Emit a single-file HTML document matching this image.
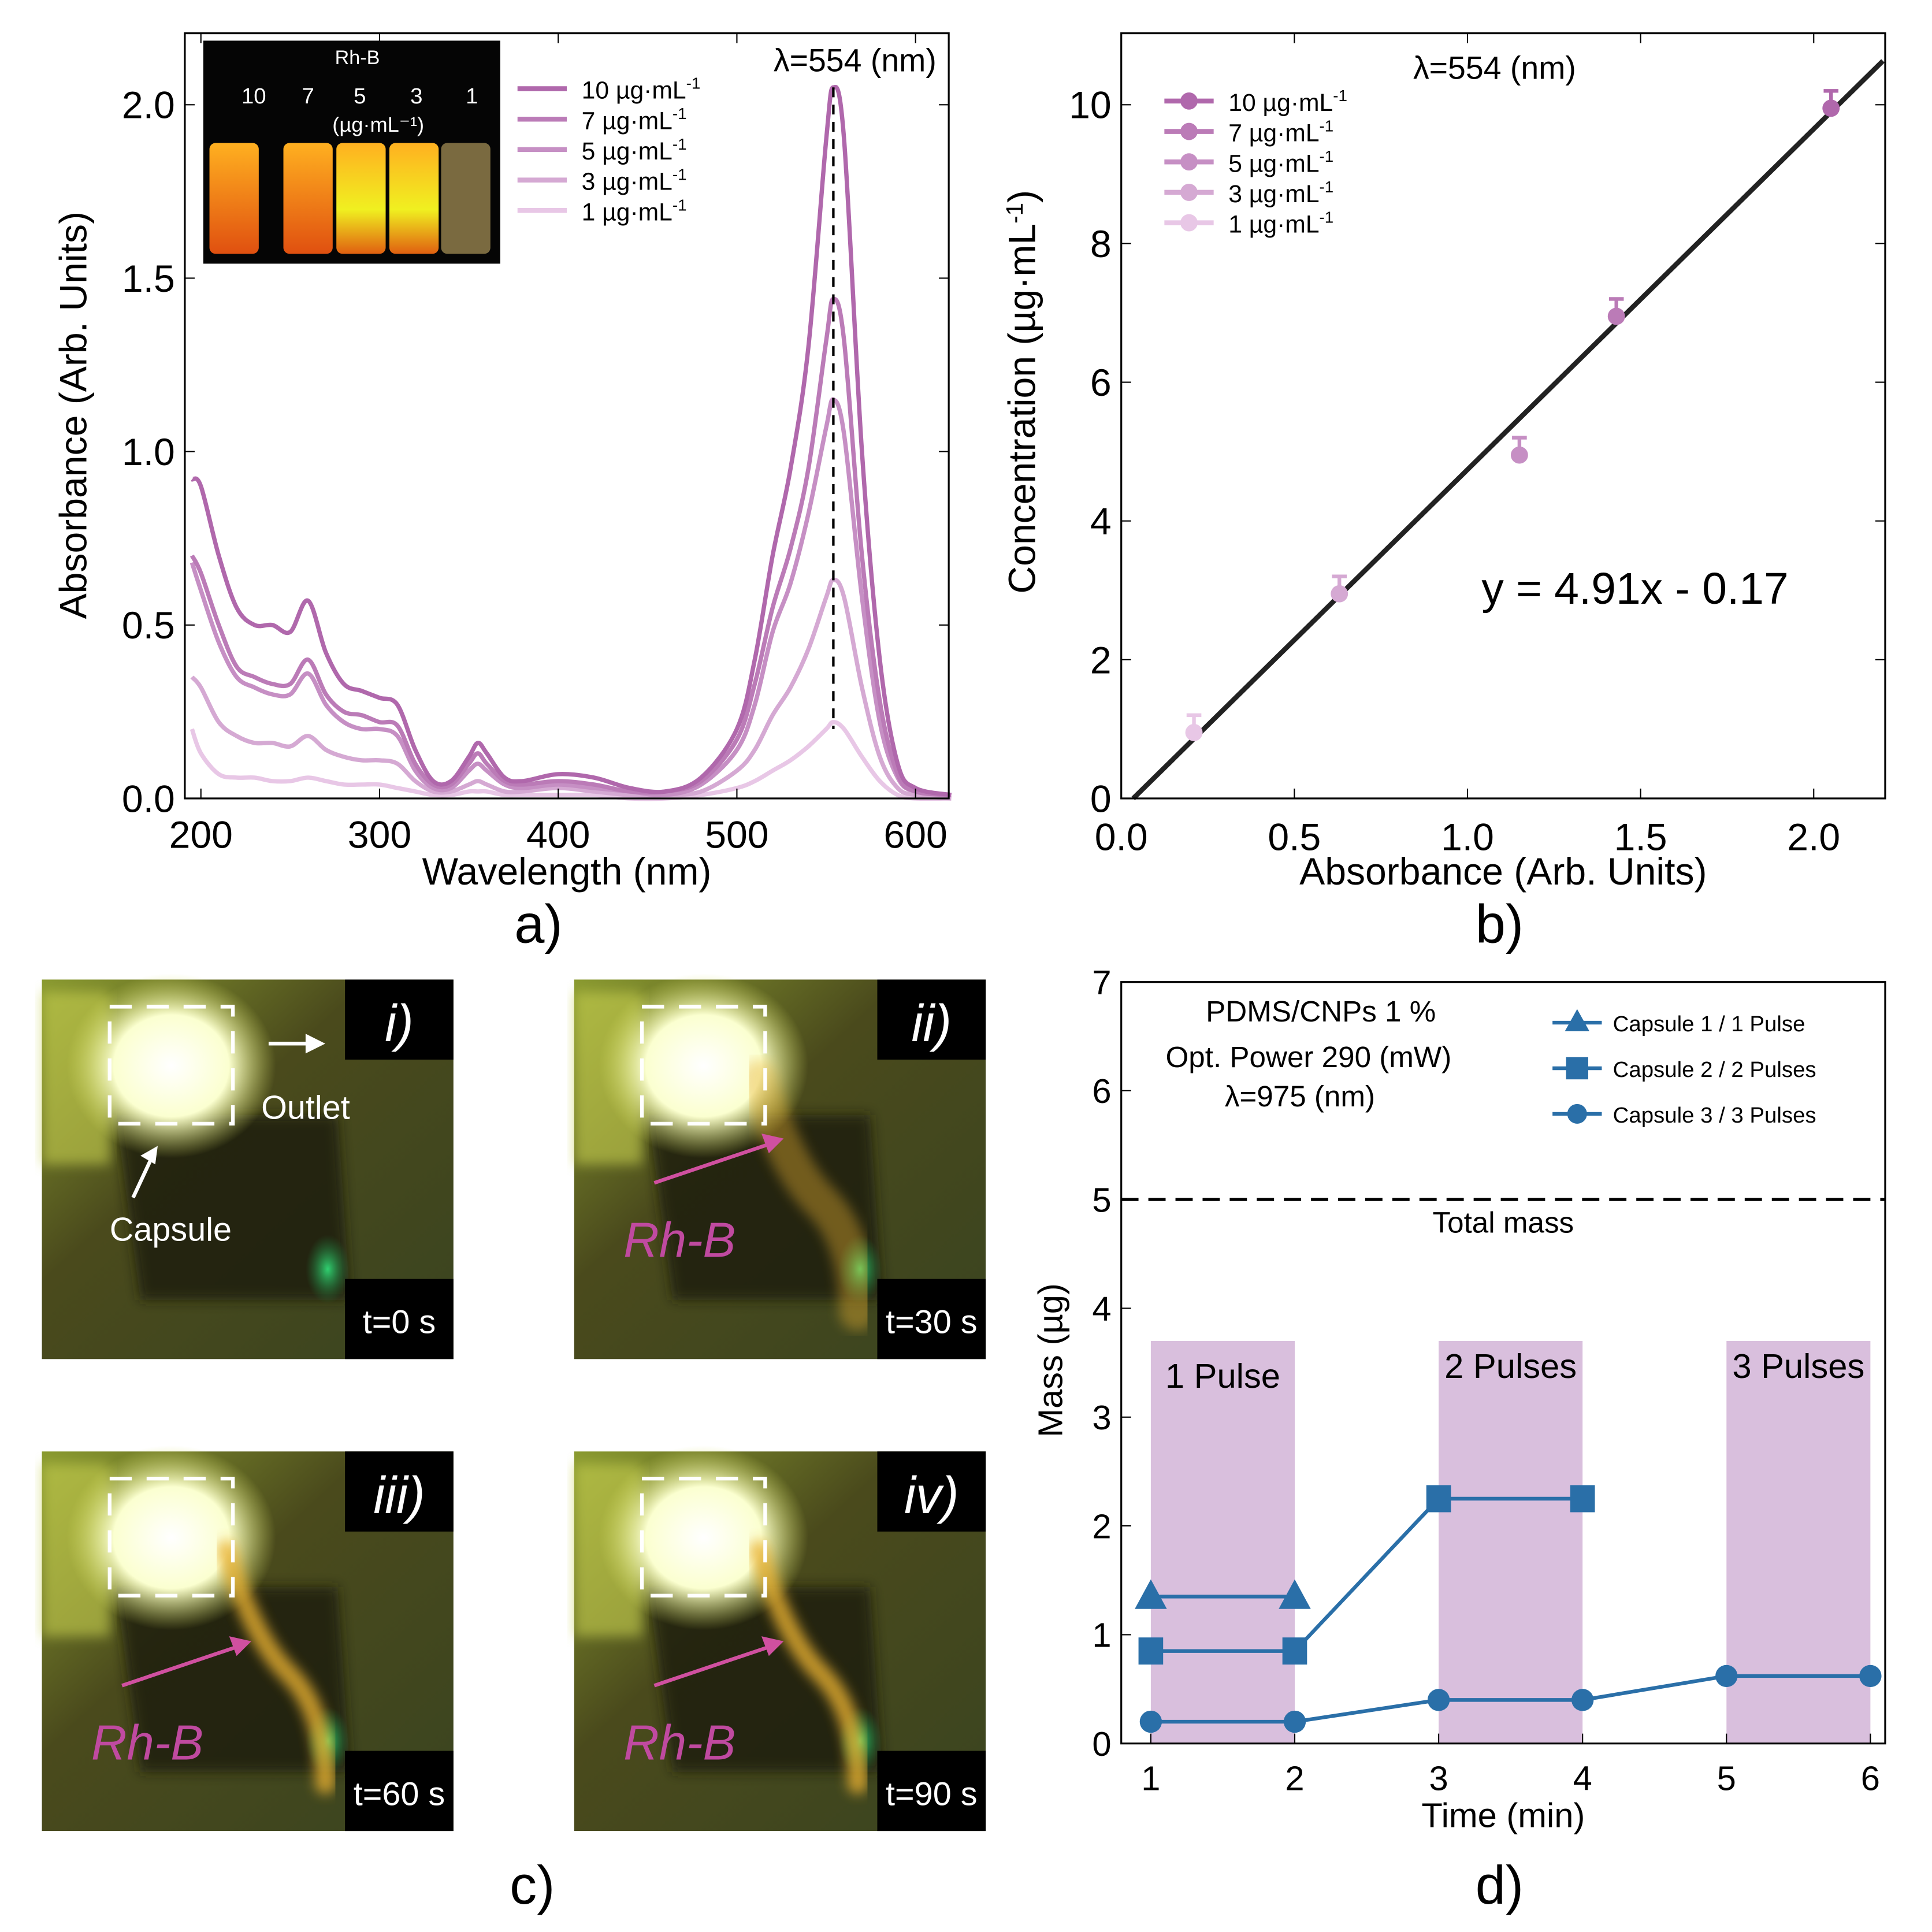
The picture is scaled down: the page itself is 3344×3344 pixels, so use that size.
<!DOCTYPE html>
<html><head><meta charset="utf-8"><style>
html,body{margin:0;padding:0;background:#fff}
svg{display:block}
text{font-family:"Liberation Sans","DejaVu Sans",sans-serif}
</style></head><body>
<svg id="fig" xmlns="http://www.w3.org/2000/svg" width="3344" height="3344" viewBox="0 0 1568 1568">
<defs>
<radialGradient id="glow" cx="50%" cy="50%" r="50%"><stop offset="0" stop-color="#ffffff"/><stop offset="0.55" stop-color="#fbffd0"/><stop offset="1" stop-color="#d8e060" stop-opacity="0"/></radialGradient>
<radialGradient id="green" cx="50%" cy="50%" r="50%"><stop offset="0" stop-color="#30d070"/><stop offset="1" stop-color="#208040" stop-opacity="0"/></radialGradient>
<linearGradient id="bg" x1="0" y1="0" x2="1" y2="1"><stop offset="0" stop-color="#8a9a30"/><stop offset="0.4" stop-color="#4a4a1c"/><stop offset="1" stop-color="#3a4420"/></linearGradient>
<linearGradient id="vial" x1="0" y1="0" x2="0" y2="1"><stop offset="0" stop-color="#ffb020"/><stop offset="1" stop-color="#e05010"/></linearGradient>
<linearGradient id="vialy" x1="0" y1="0" x2="0" y2="1"><stop offset="0" stop-color="#ffb020"/><stop offset="0.6" stop-color="#f0f020"/><stop offset="1" stop-color="#e06010"/></linearGradient>
<filter id="blur"><feGaussianBlur stdDeviation="5"/></filter>
</defs>
<g id="root"></g>
</svg>
<script>
// ---------- Panel a data ----------
const wavelengths=[195,200,210,220,230,240,250,260,270,280,290,300,310,320,330,340,350,355,360,370,380,400,420,440,460,480,500,510,520,530,540,550,554,560,570,580,590,600,620];
const abs10=[.92,.90,.70,.55,.50,.50,.48,.57,.42,.33,.31,.29,.27,.14,.05,.05,.12,.16,.13,.06,.05,.07,.06,.03,.02,.06,.20,.40,.70,.95,1.30,1.90,2.05,1.90,1.00,.40,.10,.03,.01];
const abs7=[.70,.65,.50,.38,.35,.33,.33,.40,.30,.25,.24,.22,.21,.10,.04,.04,.10,.13,.10,.05,.04,.05,.04,.02,.02,.05,.17,.33,.55,.72,.95,1.32,1.44,1.32,.70,.28,.07,.02,.01];
const abs5=[.68,.60,.45,.35,.32,.30,.30,.36,.27,.22,.20,.20,.18,.08,.03,.03,.08,.10,.08,.04,.03,.04,.03,.02,.01,.04,.14,.27,.48,.62,.82,1.07,1.15,1.05,.58,.22,.06,.02,.01];
const abs3=[.35,.32,.22,.18,.16,.16,.15,.18,.14,.12,.11,.11,.10,.05,.02,.02,.04,.05,.04,.02,.02,.03,.02,.01,.01,.02,.08,.14,.24,.32,.43,.58,.63,.58,.32,.12,.03,.01,.00];
const abs1=[.20,.13,.07,.06,.06,.05,.05,.06,.05,.04,.04,.04,.03,.02,.01,.01,.02,.02,.02,.01,.01,.01,.01,.00,.00,.01,.03,.05,.08,.11,.15,.20,.22,.20,.12,.05,.01,.00,.00];
const aXTicks=[200,300,400,500,600];
const aYTicks=[0,0.5,1.0,1.5,2.0];
const seriesLabels=["10 µg·mL","7 µg·mL","5 µg·mL","3 µg·mL","1 µg·mL"];
// ---------- Panel b data ----------
const bAbs=[0.21,0.63,1.15,1.43,2.05];
const bConc=[0.95,2.95,4.95,6.95,9.95];
const bErr=[0.25,0.25,0.25,0.25,0.25];
const bXTicks=[0,0.5,1.0,1.5,2.0];
const bYTicks=[0,2,4,6,8,10];
const fitSlope=4.91, fitIntercept=-0.17;
// ---------- Panel d data ----------
const dTri=[[1,1.35],[2,1.35]];
const dSq=[[1,0.85],[2,0.85],[3,2.25],[4,2.25]];
const dCirc=[[1,0.2],[2,0.2],[3,0.4],[4,0.4],[5,0.62],[6,0.62]];
const dBands=[[1,2,"1 Pulse"],[3,4,"2 Pulses"],[5,6,"3 Pulses"]];
const dXTicks=[1,2,3,4,5,6];
const dYTicks=[0,1,2,3,4,5,6,7];

const NS="http://www.w3.org/2000/svg";
const root=document.getElementById('root');
function el(tag,attrs,parent,txt){const e=document.createElementNS(NS,tag);for(const k in attrs)e.setAttribute(k,attrs[k]);if(txt!==undefined)e.textContent=txt;(parent||root).appendChild(e);return e;}
function smooth(pts){let d='M'+pts[0][0]+' '+pts[0][1];for(let i=0;i<pts.length-1;i++){const p0=pts[Math.max(0,i-1)],p1=pts[i],p2=pts[i+1],p3=pts[Math.min(pts.length-1,i+2)];
 const c1=[p1[0]+(p2[0]-p0[0])/6,p1[1]+(p2[1]-p0[1])/6],c2=[p2[0]-(p3[0]-p1[0])/6,p2[1]-(p3[1]-p1[1])/6];
 d+=` C${c1[0]} ${c1[1]} ${c2[0]} ${c2[1]} ${p2[0]} ${p2[1]}`;}return d;}
const cols=["#b068ac","#bb7bb7","#c68fc4","#d5a9d3","#e8c7e6"];

// ===== Panel a =====
const ga=el('g',{});


const ax=w=>150+(w-191)*1.45, ay=v=>648-v*281.5;
[abs10,abs7,abs5,abs3,abs1].slice().reverse().forEach((s,ri)=>{const i=4-ri;
 const p=el('path',{d:smooth(wavelengths.map((w,j)=>[ax(w),ay(s[j])])),fill:'none',stroke:cols[i],'stroke-width':3.5,'stroke-linejoin':'round'},ga);
 
 });
el('line',{x1:ax(554),x2:ax(554),y1:ay(2.05),y2:ay(0.2),stroke:'#000','stroke-width':2,'stroke-dasharray':'8,6'},ga);
el('rect',{x:150,y:27,width:620,height:621,fill:'none',stroke:'#000','stroke-width':1.5},ga);
aXTicks.forEach(t=>{el('line',{x1:ax(t),x2:ax(t),y1:648,y2:640,stroke:'#000'},ga);el('line',{x1:ax(t),x2:ax(t),y1:27,y2:35,stroke:'#000'},ga);
 const tx=el('text',{x:ax(t),y:688,'font-size':31,'text-anchor':'middle'},ga,t);});
aYTicks.forEach(t=>{el('line',{x1:150,x2:158,y1:ay(t),y2:ay(t),stroke:'#000'},ga);el('line',{x1:770,x2:762,y1:ay(t),y2:ay(t),stroke:'#000'},ga);
 const tx=el('text',{x:142,y:ay(t)+11,'font-size':31,'text-anchor':'end'},ga,t.toFixed(1));});
let t1=el('text',{x:460,y:718,'font-size':31,'text-anchor':'middle'},ga,'Wavelength (nm)');
let t2=el('text',{x:70,y:337,'font-size':31,'text-anchor':'middle',transform:'rotate(-90 70 337)'},ga,'Absorbance (Arb. Units)');
el('text',{x:760,y:58,'font-size':26,'text-anchor':'end'},ga,'λ=554 (nm)');
seriesLabels.forEach((l,i)=>{const y=72+i*24.7;el('line',{x1:420,x2:460,y1:y,y2:y,stroke:cols[i],'stroke-width':4},ga);
 const tx=el('text',{x:472,y:y+8,'font-size':20},ga);
 tx.innerHTML=l+'<tspan dy="-8" font-size="13">-1</tspan>';});
// inset photo
const inset=el('g',{},ga);
el('rect',{x:165,y:33,width:241,height:181,fill:'#050505'},inset);
el('text',{x:290,y:52,'font-size':16,fill:'#fff','text-anchor':'middle'},inset,'Rh-B');
[["10",206],["7",250],["5",292],["3",338],["1",383]].forEach(([n,x])=>el('text',{x:x,y:84,'font-size':18,fill:'#fff','text-anchor':'middle'},inset,n));
el('text',{x:307,y:107,'font-size':17,fill:'#fff','text-anchor':'middle'},inset,'(µg·mL⁻¹)');
[[170,'url(#vial)'],[230,'url(#vial)'],[273,'url(#vialy)'],[316,'url(#vialy)'],[358,'#7a6a40']].forEach(([x,f])=>el('rect',{x:x,y:116,width:40,height:90,rx:5,fill:f},inset));
let la=el('text',{x:437,y:765,'font-size':44,'text-anchor':'middle'},ga,'a)');

// ===== Panel b =====
const gb=el('g',{});


const bx=v=>910+v*281, by=v=>648-v*56.3;
const x0=(0-fitIntercept)/fitSlope, x1=2.2;
const fit=el('line',{x1:bx(x0),y1:by(0),x2:bx(x1),y2:by(fitSlope*x1+fitIntercept),stroke:'#222','stroke-width':4},gb);

const bcols=cols.slice().reverse();
bAbs.forEach((a,i)=>{el('line',{x1:bx(a),x2:bx(a),y1:by(bConc[i]),y2:by(bConc[i]+bErr[i]),stroke:bcols[i],'stroke-width':3},gb);
 el('line',{x1:bx(a)-6,x2:bx(a)+6,y1:by(bConc[i]+bErr[i]),y2:by(bConc[i]+bErr[i]),stroke:bcols[i],'stroke-width':3},gb);
 const c=el('circle',{cx:bx(a),cy:by(bConc[i]),r:7,fill:bcols[i]},gb);});
el('rect',{x:910,y:27,width:620,height:621,fill:'none',stroke:'#000','stroke-width':1.5},gb);
bXTicks.forEach(t=>{el('line',{x1:bx(t),x2:bx(t),y1:648,y2:640,stroke:'#000'},gb);el('line',{x1:bx(t),x2:bx(t),y1:27,y2:35,stroke:'#000'},gb);
 const tx=el('text',{x:bx(t),y:690,'font-size':31,'text-anchor':'middle'},gb,t.toFixed(1));});
bYTicks.forEach(t=>{el('line',{x1:910,x2:918,y1:by(t),y2:by(t),stroke:'#000'},gb);el('line',{x1:1530,x2:1522,y1:by(t),y2:by(t),stroke:'#000'},gb);
 const tx=el('text',{x:902,y:by(t)+11,'font-size':31,'text-anchor':'end'},gb,t);});
let t3=el('text',{x:1220,y:718,'font-size':31,'text-anchor':'middle'},gb,'Absorbance (Arb. Units)');
let t4=el('text',{x:840,y:318,'font-size':31,'text-anchor':'middle',transform:'rotate(-90 840 318)'},gb);t4.innerHTML='Concentration  (µg·mL<tspan dy="-10" font-size="19">-1</tspan><tspan dy="10">)</tspan>';
el('text',{x:1213,y:64,'font-size':26,'text-anchor':'middle'},gb,'λ=554 (nm)');
let eq=el('text',{x:1327,y:490,'font-size':36,'text-anchor':'middle'},gb,'y = 4.91x - 0.17');
seriesLabels.forEach((l,i)=>{const y=82+i*24.7;el('line',{x1:945,x2:985,y1:y,y2:y,stroke:cols[i],'stroke-width':4},gb);el('circle',{cx:965,cy:y,r:7,fill:cols[i]},gb);
 const tx=el('text',{x:997,y:y+8,'font-size':20},gb);
 tx.innerHTML=l+'<tspan dy="-8" font-size="13">-1</tspan>';});
let lb=el('text',{x:1217,y:765,'font-size':44,'text-anchor':'middle'},gb,'b)');

// ===== Panel c (photos) =====
const gc=el('g',{});


const photos=[[34,795,'i)','t=0 s',0],[466,795,'ii)','t=30 s',1],[34,1178,'iii)','t=60 s',2],[466,1178,'iv)','t=90 s',3]];
photos.forEach(([x,y,lab,time,k])=>{const g=el('g',{},gc);
 el('rect',{x:x,y:y,width:334,height:308,fill:'url(#bg)'},g);
 el('path',{d:`M${x+60} ${y+110} L${x+240} ${y+110} L${x+250} ${y+260} L${x+80} ${y+260} Z`,fill:'#1e1a10',opacity:0.8,filter:'url(#blur)'},g);
 el('rect',{x:x,y:y+10,width:55,height:140,fill:'#c8d050',opacity:0.6,filter:'url(#blur)'},g);
 el('ellipse',{cx:x+105,cy:y+70,rx:85,ry:75,fill:'url(#glow)'},g);
 el('ellipse',{cx:x+232,cy:y+235,rx:18,ry:28,fill:'url(#green)'},g);
 if(k>0){const w=k===1?30:16;el('path',{d:`M${x+150} ${y+80} Q${x+170} ${y+150} ${x+200} ${y+180} T${x+230} ${y+270}`,fill:'none',stroke:'#e8b030','stroke-width':w,'stroke-linecap':'round',opacity:k===1?0.4:0.8,filter:'url(#blur)'},g);}
 el('rect',{x:x+55,y:y+22,width:100,height:95,fill:'none',stroke:'#fff','stroke-width':3,'stroke-dasharray':'18,12'},g);
 el('rect',{x:x+246,y:y,width:88,height:65,fill:'#000'},g);
 el('rect',{x:x+246,y:y+243,width:88,height:65,fill:'#000'},g);
 el('text',{x:x+290,y:y+50,'font-size':42,fill:'#fff','font-style':'italic','text-anchor':'middle'},g,lab);
 el('text',{x:x+290,y:y+287,'font-size':27,fill:'#fff','text-anchor':'middle'},g,time);
 if(k===0){el('text',{x:x+178,y:y+113,'font-size':27,fill:'#fff'},g,'Outlet');
  el('line',{x1:x+184,y1:y+52,x2:x+215,y2:y+52,stroke:'#fff','stroke-width':3},g);el('path',{d:`M${x+230} ${y+52} l-16 -8 v16 z`,fill:'#fff'},g);
  el('line',{x1:x+74,y1:y+177,x2:x+88,y2:y+147,stroke:'#fff','stroke-width':3},g);el('path',{d:`M${x+94} ${y+135} l-14 8 l12 7 z`,fill:'#fff'},g);
  el('text',{x:x+55,y:y+212,'font-size':27,fill:'#fff'},g,'Capsule');}
 else{const ox=x+20, oy=k===1?y+175:y+200;
  el('line',{x1:ox+45,y1:oy-10,x2:ox+140,y2:oy-42,stroke:'#d050a0','stroke-width':3},g);el('path',{d:`M${ox+150} ${oy-46} l-18 -4 l6 16 z`,fill:'#d050a0'},g);
  el('text',{x:ox+20,y:oy+50,'font-size':40,fill:'#c04aa0','font-style':'italic'},g,'Rh-B');}
});
let lc=el('text',{x:432,y:1545,'font-size':44,'text-anchor':'middle'},gc,'c)');

// ===== Panel d =====
const gd=el('g',{});


const dx=v=>934+(v-1)*116.8, dy=v=>1415-v*88.3;
dBands.forEach(([a,b,l])=>{const r=el('rect',{x:dx(a),y:dy(3.7),width:dx(b)-dx(a),height:dy(0)-dy(3.7),fill:'#d9bfdd'},gd);
 el('text',{x:(dx(a)+dx(b))/2,y:l==="1 Pulse"?dy(3.7)+38:dy(3.7)+30,'font-size':28,'text-anchor':'middle'},gd,l);});
let dl=el('line',{x1:910,x2:1530,y1:dy(5),y2:dy(5),stroke:'#000','stroke-width':2.5,'stroke-dasharray':'14,8'},gd);
el('text',{x:1220,y:dy(5)+27,'font-size':24,'text-anchor':'middle'},gd,'Total mass');
const blue="#2a6fa8";
function series(pts,marker,name){const pl=el('polyline',{points:pts.map(p=>dx(p[0])+','+dy(p[1])).join(' '),fill:'none',stroke:blue,'stroke-width':3},gd);
 
 pts.forEach(p=>{const cx=dx(p[0]),cy=dy(p[1]);let m;
  if(marker==='tri')m=el('path',{d:`M${cx} ${cy-14} L${cx+13} ${cy+10} L${cx-13} ${cy+10} Z`,fill:blue},gd);
  else if(marker==='sq')m=el('rect',{x:cx-10,y:cy-11,width:20,height:22,fill:blue},gd);
  else m=el('circle',{cx:cx,cy:cy,r:9,fill:blue},gd);
  });}
series(dCirc,'circ','capsule-3');series(dSq,'sq','capsule-2');series(dTri,'tri','capsule-1');
el('rect',{x:910,y:797,width:620,height:618,fill:'none',stroke:'#000','stroke-width':1.5},gd);
dXTicks.forEach(t=>{el('line',{x1:dx(t),x2:dx(t),y1:1415,y2:1407,stroke:'#000'},gd);
 const tx=el('text',{x:dx(t),y:1453,'font-size':28,'text-anchor':'middle'},gd,t);});
dYTicks.forEach(t=>{el('line',{x1:910,x2:918,y1:dy(t),y2:dy(t),stroke:'#000'},gd);
 const tx=el('text',{x:902,y:dy(t)+10,'font-size':28,'text-anchor':'end'},gd,t);});
let t5=el('text',{x:1220,y:1483,'font-size':28,'text-anchor':'middle'},gd,'Time (min)');
let t6=el('text',{x:862,y:1104,'font-size':28,'text-anchor':'middle',transform:'rotate(-90 862 1104)'},gd,'Mass (µg)');
el('text',{x:1072,y:829,'font-size':24,'text-anchor':'middle'},gd,'PDMS/CNPs  1  %');
el('text',{x:1062,y:866,'font-size':24,'text-anchor':'middle'},gd,'Opt. Power 290 (mW)');
el('text',{x:1055,y:898,'font-size':24,'text-anchor':'middle'},gd,'λ=975 (nm)');
[['tri','Capsule 1 / 1 Pulse',830],['sq','Capsule 2 / 2 Pulses',867],['circ','Capsule 3 / 3 Pulses',904]].forEach(([m,l,y])=>{
 el('line',{x1:1260,x2:1300,y1:y,y2:y,stroke:blue,'stroke-width':3},gd);const cx=1280;
 if(m==='tri')el('path',{d:`M${cx} ${y-11} L${cx+10} ${y+7} L${cx-10} ${y+7} Z`,fill:blue},gd);
 else if(m==='sq')el('rect',{x:cx-9,y:y-9,width:18,height:18,fill:blue},gd);
 else el('circle',{cx:cx,cy:y,r:8,fill:blue},gd);
 const tx=el('text',{x:1309,y:y+7,'font-size':18},gd,l);});
let ld=el('text',{x:1217,y:1545,'font-size':44,'text-anchor':'middle'},gd,'d)');
</script>
</body></html>
